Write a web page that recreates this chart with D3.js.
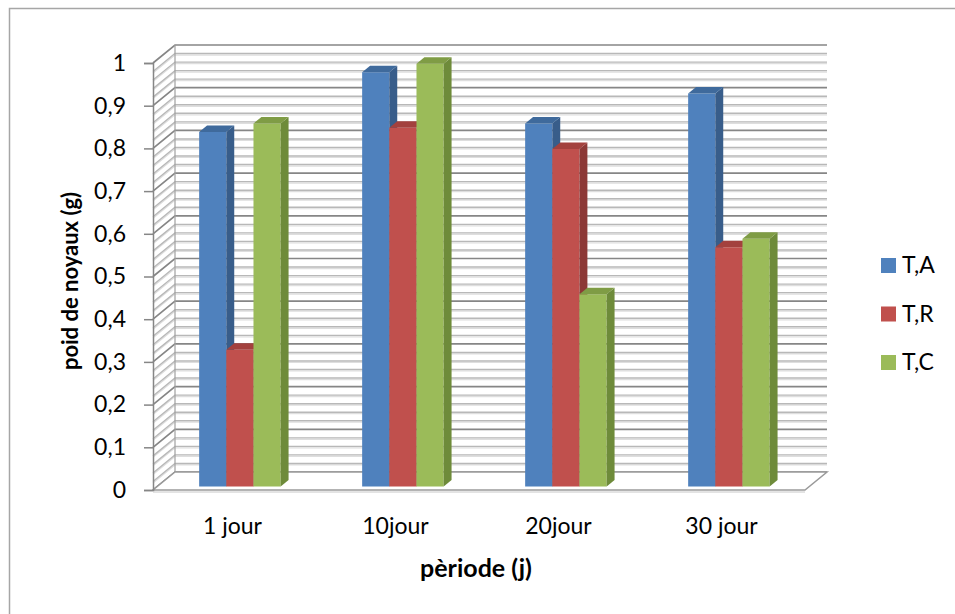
<!DOCTYPE html>
<html>
<head>
<meta charset="utf-8">
<script src="https://cdn.jsdelivr.net/npm/d3@7"></script>
<style>
  html, body { margin: 0; padding: 0; background: #fff; }
  svg { display: block; font-family: Lato, "Open Sans", sans-serif; }
</style>
</head>
<body>
<svg id="chart" width="955" height="614"></svg>
<script>
// Periods along the horizontal axis
const categories = ["1 jour", "10jour", "20jour", "30 jour"];
// Series names
const seriesNames = ["T,A", "T,R", "T,C"];
// Kernel weight (g) per series, one value per period
const valuesTA = [0.83, 0.97, 0.85, 0.92];
const valuesTR = [0.32, 0.84, 0.79, 0.56];
const valuesTC = [0.85, 0.99, 0.45, 0.58];
// Value axis ticks
const yTicks = [0, 0.1, 0.2, 0.3, 0.4, 0.5, 0.6, 0.7, 0.8, 0.9, 1];

const series = [
  { name: seriesNames[0], values: valuesTA, front: "#4f81bd", side: "#385d8a", top: "#3f6a9c" },
  { name: seriesNames[1], values: valuesTR, front: "#c0504d", side: "#8c3836", top: "#a3413e" },
  { name: seriesNames[2], values: valuesTC, front: "#9bbb59", side: "#6e8b3a", top: "#7f9c45" }
];

const svg = d3.select("#chart");

// outer chart frame
svg.append("rect").attr("x", 9.5).attr("y", 8.5).attr("width", 960).attr("height", 620)
  .attr("fill", "none").attr("stroke", "#a6a6a6").attr("stroke-width", 1.5);

// oblique projection: depth z in [0,1] shifts right and up
const DX = 22, DY = 18;
const x = d3.scaleBand().domain(categories).range([153, 805]).paddingInner(0).paddingOuter(0);
const y = d3.scaleLinear().domain([0, 1]).range([490, 63]);
const proj = (px, v, z) => [px + z * DX, y(v) - z * DY];

const gridVals = d3.range(0, 51).map(i => i / 50);
const isMajor = v => Math.abs(v * 10 - Math.round(v * 10)) < 1e-6;

const walls = svg.append("g");
const xL = x.range()[0], xR = x.range()[1];

// side wall and back wall grid lines
gridVals.forEach(v => {
  const major = isMajor(v);
  const col = major ? "#868686" : "#b8b8b8";
  const w = major ? 1.7 : 1.4;
  const a = proj(xL, v, 0), b = proj(xL, v, 1), c = proj(xR, v, 1);
  if (!major) {
    // soft second stroke under each minor line
    walls.append("path").attr("d", d3.line()([[a[0], a[1] + 1.5], [b[0], b[1] + 1.5], [c[0], c[1] + 1.5]]))
      .attr("fill", "none").attr("stroke", "#dedede").attr("stroke-width", 1.2);
  }
  walls.append("path").attr("d", d3.line()([a, b, c]))
    .attr("fill", "none").attr("stroke", col).attr("stroke-width", w);
});

// back wall left edge
walls.append("line")
  .attr("x1", proj(xL, 0, 1)[0]).attr("y1", proj(xL, 0, 1)[1])
  .attr("x2", proj(xL, 1, 1)[0]).attr("y2", proj(xL, 1, 1)[1])
  .attr("stroke", "#a0a0a0").attr("stroke-width", 1.2);

// floor outline
const floorPts = [proj(xL, 0, 0), proj(xR, 0, 0), proj(xR, 0, 1), proj(xL, 0, 1)];
walls.append("path").attr("d", d3.line()(floorPts) + "Z")
  .attr("fill", "#fff").attr("stroke", "#9a9a9a").attr("stroke-width", 1.5);
walls.append("line").attr("x1", xL).attr("y1", y(0) + 2).attr("x2", xR).attr("y2", y(0) + 2)
  .attr("stroke", "#c8c8c8").attr("stroke-width", 1);

// value axis
const axis = d3.axisLeft(y).tickValues(yTicks).tickSize(9).tickPadding(18)
  .tickFormat(d => String(d).replace(".", ","));
const ag = svg.append("g").attr("transform", `translate(${xL},0)`).call(axis);
ag.select(".domain").attr("stroke", "#868686").attr("stroke-width", 1.5);
ag.selectAll(".tick line").attr("stroke", "#868686").attr("stroke-width", 1.5);
ag.selectAll(".tick text").attr("fill", "#000").attr("font-size", 23)
  .attr("font-family", "Lato, 'Open Sans', sans-serif");

// bars
const Z0 = 0.2, Z1 = 0.56;
const inner = d3.scaleBand().domain(seriesNames).range([0, x.bandwidth() / 2]);
const bars = svg.append("g");
categories.forEach((cat, ci) => {
  const gx = x(cat) + x.bandwidth() / 4 + 1;
  series.forEach(s => {
    const v = s.values[ci];
    const x0 = gx + inner(s.name), x1 = x0 + inner.bandwidth();
    const f = [proj(x0, 0, Z0), proj(x1, 0, Z0), proj(x1, v, Z0), proj(x0, v, Z0)];
    const sd = [proj(x1, 0, Z0), proj(x1, 0, Z1), proj(x1, v, Z1), proj(x1, v, Z0)];
    const tp = [proj(x0, v, Z0), proj(x1, v, Z0), proj(x1, v, Z1), proj(x0, v, Z1)];
    bars.append("path").attr("d", d3.line()(f) + "Z").attr("fill", s.front);
    bars.append("path").attr("d", d3.line()(sd) + "Z").attr("fill", s.side);
    bars.append("path").attr("d", d3.line()(tp) + "Z").attr("fill", s.top);
  });
});

// category labels
svg.append("g").selectAll("text").data(categories).join("text")
  .attr("x", d => x(d) + x.bandwidth() / 2 - 2).attr("y", 534)
  .attr("text-anchor", "middle").attr("font-size", 23).attr("fill", "#000")
  .text(d => d);

// axis titles
svg.append("text").attr("x", 476).attr("y", 577).attr("text-anchor", "middle")
  .attr("font-size", 25).attr("font-weight", "bold").text("pèriode (j)");
svg.append("text").attr("transform", "translate(78,281) rotate(-90)").attr("text-anchor", "middle")
  .attr("font-size", 22).attr("font-weight", "bold").text("poid de noyaux (g)");

// legend
const lg = svg.append("g").attr("transform", "translate(881,258)");
series.forEach((s, i) => {
  const row = lg.append("g").attr("transform", `translate(0,${i * 48.5})`);
  row.append("rect").attr("width", 15).attr("height", 15).attr("fill", s.front);
  row.append("text").attr("x", 21).attr("y", 15).attr("font-size", 23).attr("fill", "#000").text(s.name);
});
</script>
</body>
</html>
